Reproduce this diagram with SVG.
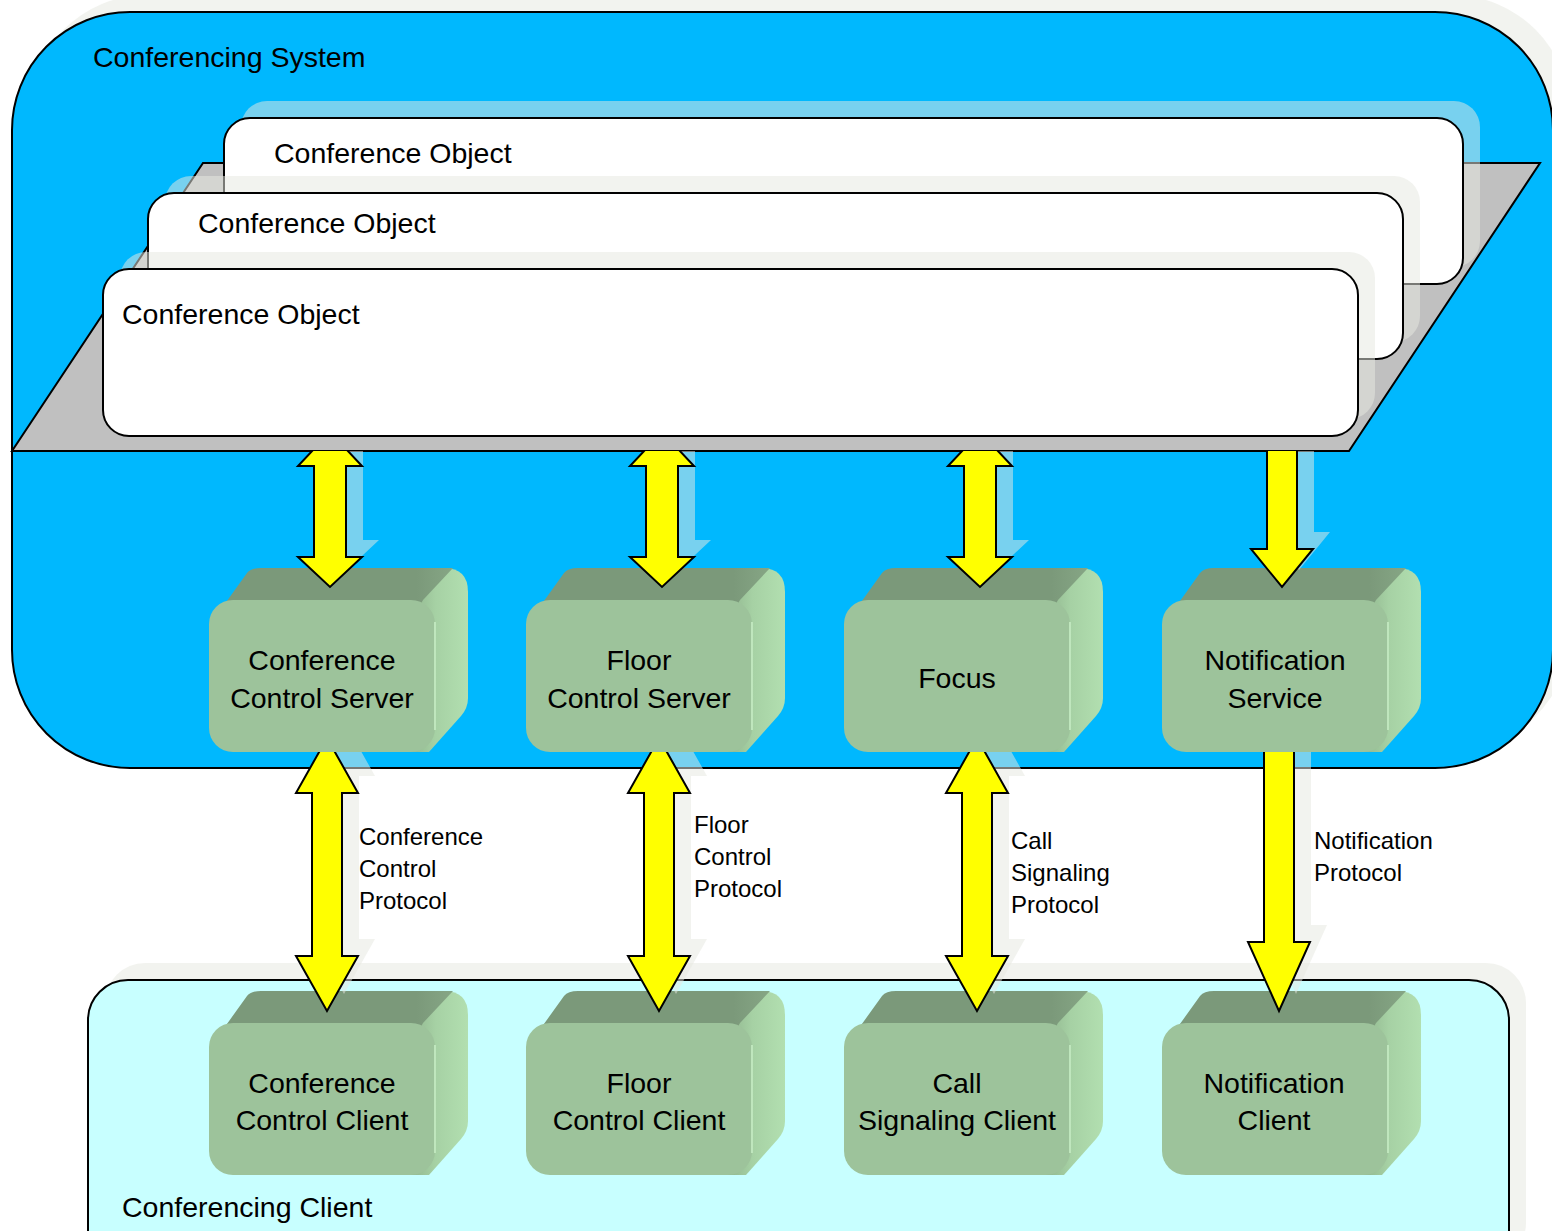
<svg xmlns="http://www.w3.org/2000/svg" xmlns:xlink="http://www.w3.org/1999/xlink" width="1552" height="1231" viewBox="0 0 1552 1231">
<style>
  text { font-family: "Liberation Sans", Arial, sans-serif; fill: #000; }
  .big { font-size: 28.5px; }
  .box { font-size: 28.5px; text-anchor: middle; }
  .lbl { font-size: 24px; }
  .shadow { fill: #e6e8e1; opacity: 0.52; }
  .outline { stroke: #000; stroke-width: 2; }
  .obj { fill: #fff; stroke: #000; stroke-width: 2; }
  .arrow { fill: #ffff00; stroke: #000; stroke-width: 2; stroke-linejoin: miter; }
  .front { fill: #9dc39b; }
  .topf { fill: #7b997a; }
</style>
<defs>
  <linearGradient id="sideGrad" x1="200" y1="0" x2="259" y2="0" gradientUnits="userSpaceOnUse">
    <stop offset="0" stop-color="#8fb48d"/>
    <stop offset="0.45" stop-color="#a6d1a4"/>
    <stop offset="1" stop-color="#b2dfb0"/>
  </linearGradient>
  <linearGradient id="topGrad" x1="0" y1="0" x2="244" y2="0" gradientUnits="userSpaceOnUse">
    <stop offset="0" stop-color="#7b997a"/>
    <stop offset="0.85" stop-color="#7b997a"/>
    <stop offset="1" stop-color="#86a685"/>
  </linearGradient>
  <clipPath id="clipUpper"><rect x="0" y="451" width="1552" height="800"/></clipPath>
  <clipPath id="clipLower"><rect x="0" y="752" width="1552" height="500"/></clipPath>
  <g id="cube">
    <path d="M200,0 L232,-32 L235,-32 Q259,-32 259,-8 L259,98 Q259,108 252,116 L220,152 L200,152 Z" fill="url(#sideGrad)"/>
    <path d="M0,26 L38,-27 Q42,-32 52,-32 L244,-32 L214,0 L200,26 Z" fill="url(#topGrad)"/>
    <rect x="0" y="0" width="226" height="152" rx="24" class="front"/>
    <line x1="226" y1="22" x2="226" y2="130" stroke="#bfe6bd" stroke-width="2"/>
  </g>
  <path id="a1" d="M330,432 L362,466 L346,466 L346,557 L362,557 L330,587 L298,557 L314,557 L314,466 L298,466 Z"/>
  <path id="a2" d="M662,432 L694,466 L678,466 L678,557 L694,557 L662,587 L630,557 L646,557 L646,466 L630,466 Z"/>
  <path id="a3" d="M980,432 L1012,466 L996,466 L996,557 L1012,557 L980,587 L948,557 L964,557 L964,466 L948,466 Z"/>
  <path id="a4" d="M1267,440 L1297,440 L1297,549 L1313,549 L1282,587 L1251,549 L1267,549 Z"/>
  <path id="b1" d="M327,738 L358,793 L342,793 L342,956 L358,956 L327,1011 L296,956 L312,956 L312,793 L296,793 Z"/>
  <path id="b2" d="M659,738 L690,793 L674,793 L674,956 L690,956 L659,1011 L628,956 L644,956 L644,793 L628,793 Z"/>
  <path id="b3" d="M977,738 L1008,793 L992,793 L992,956 L1008,956 L977,1011 L946,956 L962,956 L962,793 L946,793 Z"/>
  <path id="b4" d="M1264,740 L1294,740 L1294,942 L1310,942 L1279,1011 L1248,942 L1264,942 Z"/>
</defs>

<rect x="0" y="0" width="1552" height="1231" fill="#fff"/>

<g id="conferencing-system">
  <rect x="29" y="-5" width="1541" height="756" rx="118" class="shadow"/>
  <rect x="12" y="12" width="1541" height="756" rx="118" fill="#00b8fe" class="outline"/>
  <text x="93" y="67" class="big">Conferencing System</text>
</g>

<g id="conference-objects">
  <polygon points="203,163 1540,163 1349,451 12,451" fill="#c0c0c0" class="outline"/>
  <g id="object-back">
    <rect x="241" y="101" width="1239" height="166" rx="26" class="shadow"/>
    <rect x="224" y="118" width="1239" height="166" rx="26" class="obj"/>
    <text x="274" y="163" class="big">Conference Object</text>
  </g>
  <g id="object-middle">
    <rect x="165" y="176" width="1255" height="166" rx="26" class="shadow"/>
    <rect x="148" y="193" width="1255" height="166" rx="26" class="obj"/>
    <text x="198" y="233" class="big">Conference Object</text>
  </g>
  <g id="object-front">
    <rect x="120" y="252" width="1255" height="167" rx="26" class="shadow"/>
    <rect x="103" y="269" width="1255" height="167" rx="26" class="obj"/>
    <text x="122" y="324" class="big">Conference Object</text>
  </g>
</g>

<g id="conferencing-client">
  <rect x="105" y="963" width="1421" height="300" rx="40" class="shadow"/>
  <rect x="88" y="980" width="1421" height="300" rx="40" fill="#c8ffff" class="outline"/>
  <text x="122" y="1217" class="big">Conferencing Client</text>
</g>

<g id="conference-control-server">
  <use xlink:href="#cube" transform="translate(209,600)"/>
  <text x="322" y="670" class="box">Conference</text>
  <text x="322" y="708" class="box">Control Server</text>
</g>
<g id="floor-control-server">
  <use xlink:href="#cube" transform="translate(526,600)"/>
  <text x="639" y="670" class="box">Floor</text>
  <text x="639" y="708" class="box">Control Server</text>
</g>
<g id="focus">
  <use xlink:href="#cube" transform="translate(844,600)"/>
  <text x="957" y="688" class="box">Focus</text>
</g>
<g id="notification-service">
  <use xlink:href="#cube" transform="translate(1162,600)"/>
  <text x="1275" y="670" class="box">Notification</text>
  <text x="1275" y="708" class="box">Service</text>
</g>

<g id="conference-control-client">
  <use xlink:href="#cube" transform="translate(209,1023)"/>
  <text x="322" y="1093" class="box">Conference</text>
  <text x="322" y="1130" class="box">Control Client</text>
</g>
<g id="floor-control-client">
  <use xlink:href="#cube" transform="translate(526,1023)"/>
  <text x="639" y="1093" class="box">Floor</text>
  <text x="639" y="1130" class="box">Control Client</text>
</g>
<g id="call-signaling-client">
  <use xlink:href="#cube" transform="translate(844,1023)"/>
  <text x="957" y="1093" class="box">Call</text>
  <text x="957" y="1130" class="box">Signaling Client</text>
</g>
<g id="notification-client">
  <use xlink:href="#cube" transform="translate(1162,1023)"/>
  <text x="1274" y="1093" class="box">Notification</text>
  <text x="1274" y="1130" class="box">Client</text>
</g>

<g id="connectors">
  <g clip-path="url(#clipUpper)">
    <use xlink:href="#a1" class="shadow" transform="translate(17,-17)"/>
    <use xlink:href="#a2" class="shadow" transform="translate(17,-17)"/>
    <use xlink:href="#a3" class="shadow" transform="translate(17,-17)"/>
    <use xlink:href="#a4" class="shadow" transform="translate(17,-17)"/>
    <use xlink:href="#a1" class="arrow"/>
    <use xlink:href="#a2" class="arrow"/>
    <use xlink:href="#a3" class="arrow"/>
    <use xlink:href="#a4" class="arrow"/>
  </g>
  <g clip-path="url(#clipLower)">
    <use xlink:href="#b1" class="shadow" transform="translate(17,-17)"/>
    <use xlink:href="#b2" class="shadow" transform="translate(17,-17)"/>
    <use xlink:href="#b3" class="shadow" transform="translate(17,-17)"/>
    <use xlink:href="#b4" class="shadow" transform="translate(17,-17)"/>
    <use xlink:href="#b1" class="arrow"/>
    <use xlink:href="#b2" class="arrow"/>
    <use xlink:href="#b3" class="arrow"/>
    <use xlink:href="#b4" class="arrow"/>
  </g>
  <text class="lbl"><tspan x="359" y="845">Conference</tspan><tspan x="359" y="877">Control</tspan><tspan x="359" y="909">Protocol</tspan></text>
  <text class="lbl"><tspan x="694" y="833">Floor</tspan><tspan x="694" y="865">Control</tspan><tspan x="694" y="897">Protocol</tspan></text>
  <text class="lbl"><tspan x="1011" y="849">Call</tspan><tspan x="1011" y="881">Signaling</tspan><tspan x="1011" y="913">Protocol</tspan></text>
  <text class="lbl"><tspan x="1314" y="849">Notification</tspan><tspan x="1314" y="881">Protocol</tspan></text>
</g>
</svg>
